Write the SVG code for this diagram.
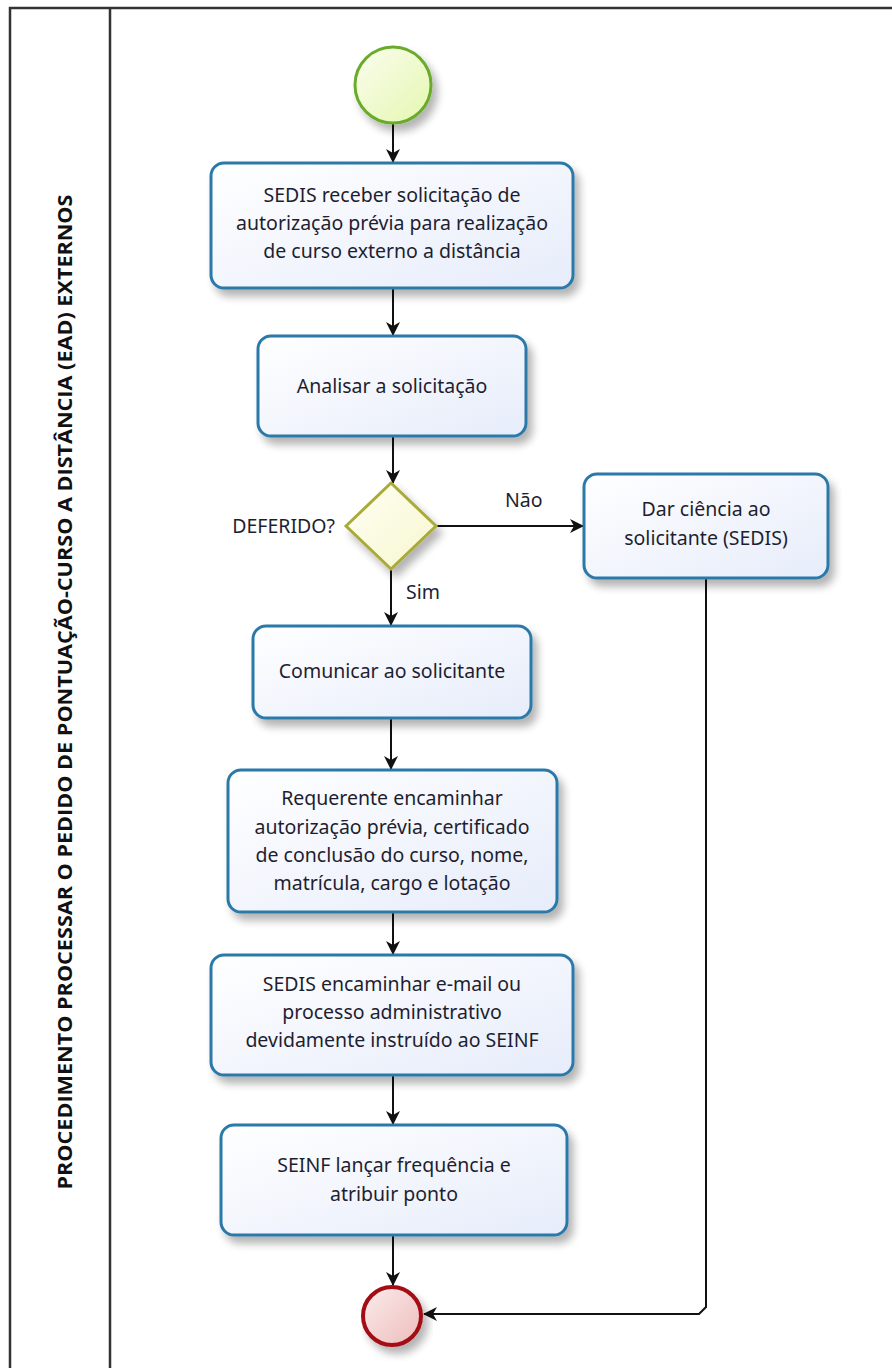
<svg xmlns="http://www.w3.org/2000/svg" width="892" height="1368" viewBox="0 0 892 1368">
<defs>
<style>
.task{fill:url(#tg);stroke:#2b79a8;stroke-width:3;filter:url(#sh)}
.t{font-family:"Noto Sans","Open Sans",sans-serif;font-size:19.5px;fill:#1e1e30;text-anchor:middle}
.lbl{font-family:"Noto Sans","Open Sans",sans-serif;font-size:19.5px;fill:#1e1e30}
.c{stroke:#111;stroke-width:2;fill:none}
.lane{stroke:#333;stroke-width:2.5;fill:none}
</style>
<linearGradient id="tg" x1="0" y1="0" x2="1" y2="1">
<stop offset="0" stop-color="#ffffff"/><stop offset="1" stop-color="#e6ecfa"/>
</linearGradient>
<linearGradient id="sg" x1="0" y1="0" x2="1" y2="1">
<stop offset="0" stop-color="#fbfdee"/><stop offset="1" stop-color="#e4f7b0"/>
</linearGradient>
<linearGradient id="eg" x1="0" y1="0" x2="1" y2="1">
<stop offset="0" stop-color="#fbecec"/><stop offset="1" stop-color="#eebcbc"/>
</linearGradient>
<linearGradient id="dg" x1="0" y1="0" x2="1" y2="1">
<stop offset="0" stop-color="#fffff4"/><stop offset="1" stop-color="#f7f6cf"/>
</linearGradient>
<filter id="sh" x="-10%" y="-10%" width="130%" height="140%">
<feGaussianBlur in="SourceAlpha" stdDeviation="4"/>
<feOffset dx="5" dy="7" result="b"/>
<feComponentTransfer><feFuncA type="linear" slope="0.3"/></feComponentTransfer>
<feMerge><feMergeNode/><feMergeNode in="SourceGraphic"/></feMerge>
</filter>
<marker id="ar" viewBox="0 0 14 14" refX="13" refY="7" markerWidth="14" markerHeight="14" markerUnits="userSpaceOnUse" orient="auto">
<path d="M0,0 L14,7 L0,14 L4,7 Z" fill="#111"/>
</marker>
</defs>
<rect width="892" height="1368" fill="#fff"/>
<g id="lane">
<path class="lane" d="M10,1368 V8 H892"/>
<path class="lane" d="M110,8 V1368"/>
<text transform="translate(72,692) rotate(-90)" font-family="'Open Sans','Noto Sans',sans-serif" font-size="19" font-weight="bold" fill="#111" text-anchor="middle" textLength="995" lengthAdjust="spacingAndGlyphs">PROCEDIMENTO PROCESSAR O PEDIDO DE PONTUAÇÃO-CURSO A DISTÂNCIA (EAD) EXTERNOS</text>
</g>
<g id="connectors">
<path class="c" d="M393,124 V162" marker-end="url(#ar)"/>
<path class="c" d="M393,289 V335" marker-end="url(#ar)"/>
<path class="c" d="M393,437 V483" marker-end="url(#ar)"/>
<path class="c" d="M436,526 H583" marker-end="url(#ar)"/>
<path class="c" d="M391,569 V625" marker-end="url(#ar)"/>
<path class="c" d="M391,719 V769" marker-end="url(#ar)"/>
<path class="c" d="M393,913 V954" marker-end="url(#ar)"/>
<path class="c" d="M393,1076 V1124" marker-end="url(#ar)"/>
<path class="c" d="M393,1236 V1285" marker-end="url(#ar)"/>
<path class="c" d="M706,579 V1307 L699,1314 H424" marker-end="url(#ar)"/>
<text class="lbl" x="505" y="507">Não</text>
<text class="lbl" x="406" y="599">Sim</text>
</g>
<g id="start">
<circle cx="393" cy="85" r="38" fill="url(#sg)" stroke="#6aac2c" stroke-width="3" filter="url(#sh)"/>
</g>
<g id="t1">
<rect class="task" x="211" y="163" width="362" height="125" rx="13"/>
<text class="t" x="392" y="202">SEDIS receber solicitação de</text>
<text class="t" x="392" y="230">autorização prévia para realização</text>
<text class="t" x="392" y="258">de curso externo a distância</text>
</g>
<g id="t2">
<rect class="task" x="258" y="336" width="268" height="100" rx="13"/>
<text class="t" x="392" y="393">Analisar a solicitação</text>
</g>
<g id="gw">
<path d="M346,526 L391,483 L436,526 L391,569 Z" fill="url(#dg)" stroke="#a9aa38" stroke-width="3" filter="url(#sh)"/>
<text class="lbl" x="335" y="533" text-anchor="end">DEFERIDO?</text>
</g>
<g id="t3">
<rect class="task" x="584" y="474" width="244" height="104" rx="13"/>
<text class="t" x="706" y="516">Dar ciência ao</text>
<text class="t" x="706" y="545">solicitante (SEDIS)</text>
</g>
<g id="t4">
<rect class="task" x="253" y="626" width="278" height="92" rx="13"/>
<text class="t" x="392" y="678">Comunicar ao solicitante</text>
</g>
<g id="t5">
<rect class="task" x="228" y="770" width="329" height="142" rx="13"/>
<text class="t" x="392" y="805">Requerente encaminhar</text>
<text class="t" x="392" y="834">autorização prévia, certificado</text>
<text class="t" x="392" y="862">de conclusão do curso, nome,</text>
<text class="t" x="392" y="890">matrícula, cargo e lotação</text>
</g>
<g id="t6">
<rect class="task" x="211" y="955" width="362" height="120" rx="13"/>
<text class="t" x="392" y="991">SEDIS encaminhar e-mail ou</text>
<text class="t" x="392" y="1019">processo administrativo</text>
<text class="t" x="392" y="1047">devidamente instruído ao SEINF</text>
</g>
<g id="t7">
<rect class="task" x="221" y="1125" width="346" height="110" rx="13"/>
<text class="t" x="394" y="1172">SEINF lançar frequência e</text>
<text class="t" x="394" y="1201">atribuir ponto</text>
</g>
<g id="end">
<circle cx="392" cy="1316" r="29" fill="url(#eg)" stroke="#a30d12" stroke-width="4" filter="url(#sh)"/>
</g>
</svg>
